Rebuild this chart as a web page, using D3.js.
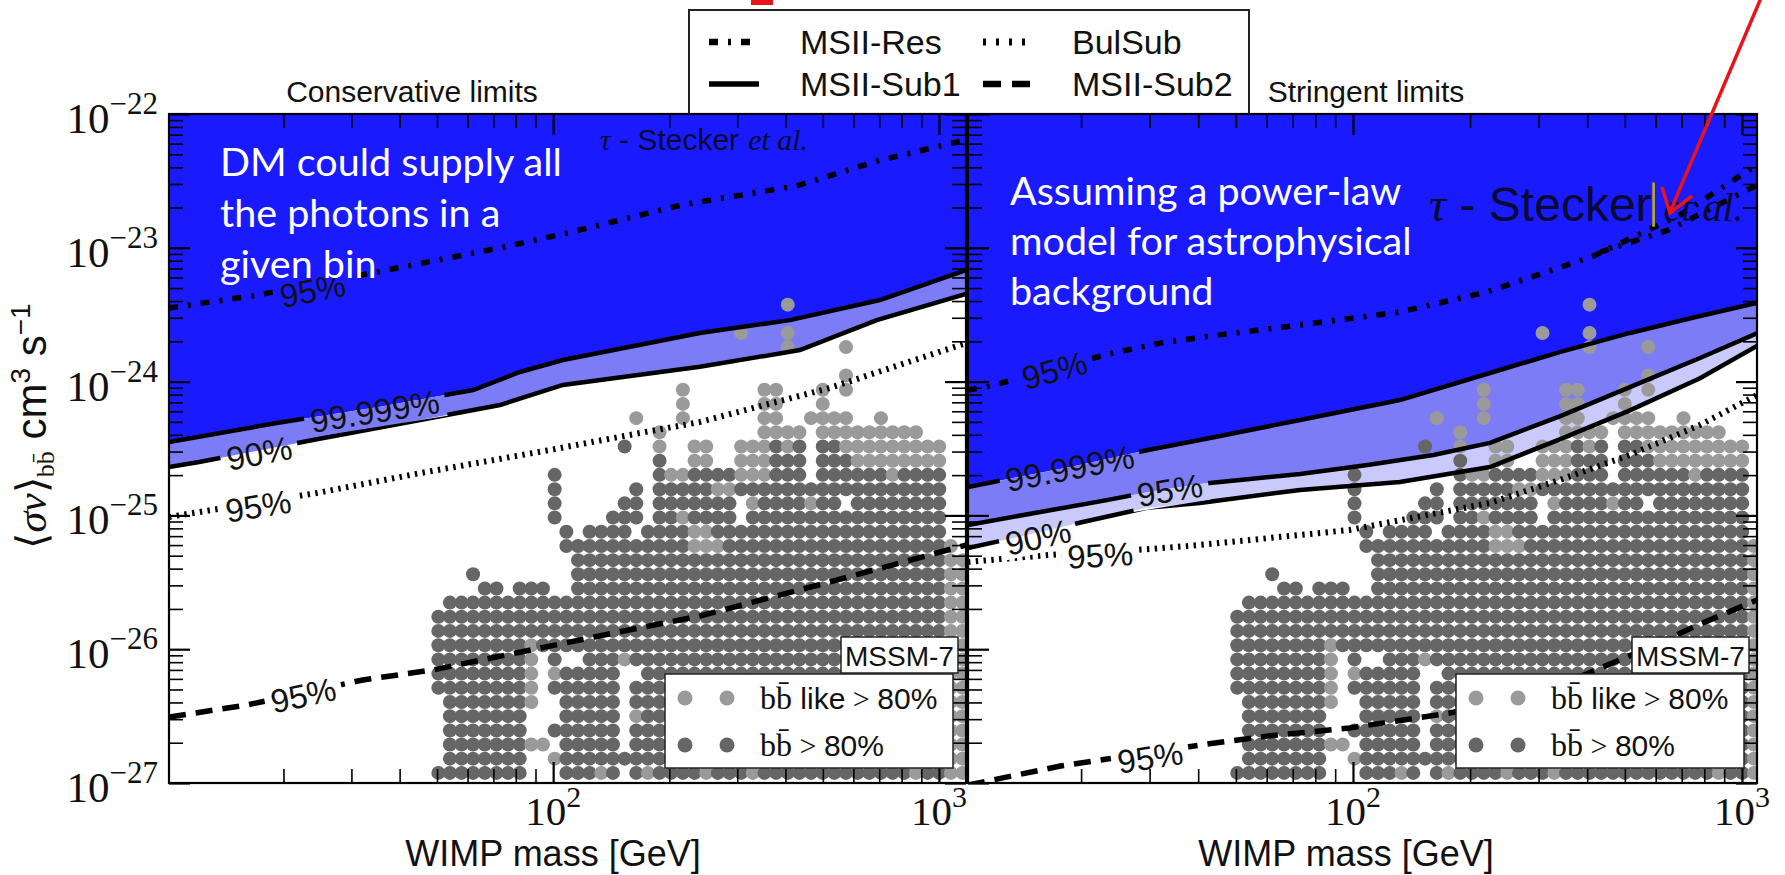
<!DOCTYPE html>
<html>
<head>
<meta charset="utf-8">
<script src="https://cdn.jsdelivr.net/npm/d3@7"></script>
<style>
  body { margin: 0; background: #fff; }
</style>
</head>
<body>
<div id="chart"></div>
<script>
// ---- data ----
// scan grid of MSSM-7 models (same set in both panels)
const massCols = [50.4, 54.0, 57.9, 62.0, 66.5, 71.3, 76.4, 81.9, 87.8, 94.1,
  100.9, 108.2, 116.0, 124.3, 133.3, 142.9, 153.2, 164.2, 176.0, 188.7,
  202.3, 216.9, 232.5, 249.3, 267.2, 286.4, 307.1, 329.2, 352.9, 378.3,
  405.5, 434.7, 466.1, 499.7, 535.6, 574.1, 615.5, 659.8, 707.3, 758.3,
  812.8, 871.4, 934.1, 1001.4, 1073.5, 1150.8];
// bottom row first
const sigmaRows = [1.19e-27, 1.52e-27, 1.94e-27, 2.47e-27, 3.16e-27, 4.03e-27, 5.15e-27, 6.57e-27, 8.39e-27,
  1.07e-26, 1.37e-26, 1.75e-26, 2.23e-26, 2.84e-26, 3.63e-26, 4.63e-26, 5.91e-26, 7.55e-26, 9.64e-26,
  1.23e-25, 1.57e-25, 2.01e-25, 2.56e-25, 3.27e-25, 4.18e-25, 5.33e-25, 6.81e-25, 8.69e-25,
  1.11e-24, 1.42e-24, 1.81e-24, 2.31e-24, 2.94e-24, 3.76e-24];
// top row first; D = bb > 80%, L = bb like > 80%
const modelGrid = [
  ".......... .......... .......... L......... ......",
  ".......... .......... .......... .......... ......",
  ".......... .......... ......L... L......... ......",
  ".......... .......... .......... L....L.... ......",
  ".......... .......... .......... .......... ......",
  ".......... .......... .......... .....L.... ......",
  ".......... .......... .L......LL ...L.L.... ......",
  ".......... .......... .L......LL ...L...... ......",
  ".......... .......L.. .L......LL ..LLLL..L. ......",
  ".......... .........L ........LL LL.LLLLLLL LL....",
  ".......... ......D..L ..LL..LLLD LD.DDLLLLL LLLL..",
  ".......... .........D ..LL..LLLD DD.DDDLLLL LLLL..",
  ".......... D........D LLDDDDLLLD DD.DDDDDDL DDDD..",
  ".......... D......D.D DDDDLLDDDD DDDDDDDDDD DDDD..",
  ".......... D.....DD.D DDDDDD.LDD DDLDD.DDDD DDDD..",
  ".......... D....DDD.D DLDDDD.DDD DDDDDDDDDD DDDD..",
  ".......... .D.DDDD.DD DDLLDDDDDD DDDDDDDDDD DDDD..",
  ".......... .DDDDDDDDD DDLLLDDDDD DDDDDDDDDD DDDDL.",
  ".......... ..DDDDDDDD DDDDDDDDDD DDDDDDDDDD DDDDLL",
  "...D...... ..DDDDDDDD DDDDDDDDDD DDDDDDDDDD DDDDLL",
  "....DD.DDD ..DDDDDDDD DDDDDDDDDD DDDDDDDDDD DDDDLL",
  ".DDDDDDDDD DDDDDDDDDD DDDDDDDDDD DDDDDDDDDD DDDDLL",
  "DDDDDDDDDD DDDDDDDDDD DDDDDDDDDD DDDDDDDDDD DDDDLL",
  "DDDDDDDDDD DDDDDDDDDD DDDDDDDDDD DDDDDDDDDD DDDDLL",
  "DDDDDDDDLD DDDDDDDDDD DDDDDDDDDD DDDDDDDDDD DDDDLL",
  "DDDDDDDDL. D..DDDLDDD DDDDDDDDDD DDDDDDDDDD DDDDLL",
  "DDDDDDDDL. LDDDDD..DD DDDDDDDDDD DDDDDDDDDD DDDDLL",
  "DDDDDDDDL. DDDDDD.DDD DDDDDDDDDD DDDDDDDDDD DDDDLL",
  ".DDDDDDDL. .DDDDD.DDD DDDDDDDDDD DDDDDDDDDD DDDDLL",
  ".DDDDDDD.. .DDDDD.LDD DDDDDDDDDD DDDDDDDDDD DDDDLL",
  ".DDDDDDD.. DDDDDD.DDD DDDDDDDDDD DDDDDDDDDD DDDDLL",
  ".DDDDDDDLL .DDDDD.DDD DDDDDDDDDD DDDDDDDDDD DDDDLL",
  ".DDDDDDD.. LDDDDDDDDD DDDDDDDDDD DDDDDDDDDD DDDDLL",
  "DDDDDDDD.. .DDDLD.DLD DDDLDDDLDD DDDDDDDDDD DLDDLL"
];

// conservative limits, [mass GeV, <sigma v> cm^3/s]
const consRes = [[10.1, 3.55e-24], [16.9, 4.4e-24], [35, 6.6e-24], [73, 1.0e-23], [110, 1.3e-23],
  [217, 2.1e-23], [428, 2.9e-23], [700, 4.5e-23], [1175, 6.4e-23]];
const consSub1High = [[10.1, 3.54e-25], [19.2, 4.9e-25], [35.6, 6.5e-25], [62, 8.65e-25], [82, 1.18e-24],
  [106, 1.45e-24], [240, 2.31e-24], [411, 2.88e-24], [703, 4.07e-24], [1175, 6.8e-24]];
const consSub1Low = [[10.1, 2.3e-25], [12.1, 2.51e-25], [24.6, 3.72e-25], [45.2, 5.16e-25], [72.8, 6.68e-25],
  [106, 9.44e-25], [240, 1.29e-24], [436, 1.72e-24], [690, 2.88e-24], [1175, 4.52e-24]];
const consBulSub = [[10.1, 9.73e-26], [12.1, 1.06e-25], [24.4, 1.47e-25], [45.2, 2.07e-25], [98, 3.08e-25],
  [168, 4.13e-25], [240, 4.99e-25], [521, 8.96e-25], [1175, 1.94e-24]];
const consSub2 = [[10.1, 3.11e-27], [16.1, 3.83e-27], [32.1, 5.89e-27], [48.8, 7.0e-27], [82, 9.5e-27],
  [149, 1.35e-26], [240, 1.77e-26], [521, 3.18e-26], [1175, 6.0e-26]];

// stringent limits
const strRes = [[10.24, 8.65e-25], [11.7, 9.27e-25], [23.0, 1.58e-24], [31.9, 1.94e-24], [42.9, 2.19e-24],
  [73.1, 2.65e-24], [132, 3.31e-24], [221, 4.67e-24], [416, 8.69e-24], [693, 1.76e-23], [1093, 4.16e-23]];
const strResBranch = [[432, 9.3e-24], [649, 1.36e-23], [1093, 2.94e-23]];
const strSub1High = [[10.24, 1.63e-25], [12.6, 1.84e-25], [19.3, 2.34e-25], [29.7, 3.08e-25], [40.4, 3.66e-25],
  [73.1, 5.16e-25], [132, 7.28e-25], [225, 1.16e-24], [340, 1.66e-24], [515, 2.31e-24], [780, 3.09e-24], [1093, 3.87e-24]];
const strSub1Mid = [[10.24, 8.47e-26], [15.7, 1.06e-25], [23.3, 1.30e-25], [30.1, 1.50e-25], [40.4, 1.72e-25],
  [54.3, 1.87e-25], [73.1, 2.04e-25], [109, 2.38e-25], [161, 2.83e-25], [225, 3.48e-25], [340, 5.5e-25],
  [515, 9.1e-25], [780, 1.5e-24], [1093, 2.3e-24]];
const strSub1Low = [[10.24, 5.7e-26], [15.7, 7.51e-26], [20.2, 8.93e-26], [29.5, 1.14e-25], [40.4, 1.24e-25],
  [73.1, 1.55e-25], [132, 1.78e-25], [225, 2.30e-25], [340, 3.7e-25], [515, 6.1e-25], [780, 1.06e-24], [1093, 1.85e-24]];
const strBulSub = [[10.24, 4.49e-26], [16.6, 5.06e-26], [30.1, 5.61e-26], [40.4, 6.01e-26], [98, 7.78e-26],
  [146, 9.73e-26], [225, 1.24e-25], [340, 1.84e-25], [515, 2.83e-25], [780, 4.74e-25], [1093, 7.94e-25]];
const strSub2 = [[10.24, 9.66e-28], [17.7, 1.34e-27], [40.4, 1.92e-27], [60.1, 2.24e-27], [98, 2.58e-27],
  [177, 3.33e-27], [268, 4.39e-27], [377, 6.1e-27], [573, 1.02e-26], [780, 1.54e-26], [1093, 2.33e-26]];

// contour labels: text, mass, sigma, line it sits on
const consLabels = [
  { text: "95%", mass: 23.8, sigma: 4.84e-24, on: "res" },
  { text: "99.999%", mass: 34.5, sigma: 6.03e-25, on: "high" },
  { text: "90%", mass: 17.3, sigma: 2.93e-25, on: "low" },
  { text: "95%", mass: 17.2, sigma: 1.18e-25, on: "bulsub" },
  { text: "95%", mass: 22.5, sigma: 4.55e-27, on: "sub2" }
];
const strLabels = [
  { text: "95%", mass: 17.1, sigma: 1.22e-24, on: "res" },
  { text: "99.999%", mass: 18.7, sigma: 2.26e-25, on: "high" },
  { text: "95%", mass: 33.8, sigma: 1.55e-25, on: "mid" },
  { text: "90%", mass: 15.5, sigma: 6.9e-26, on: "low" },
  { text: "95%", mass: 22.4, sigma: 5.06e-26, on: "bulsub" },
  { text: "95%", mass: 30.1, sigma: 1.56e-27, on: "sub2" }
];

const yTickExps = [-27, -26, -25, -24, -23, -22];
const xTickExps = [2, 3];
const legendNames = ["MSII-Res", "BulSub", "MSII-Sub1", "MSII-Sub2"];
const pointLegend = ["like", ""];
const leftNote = ["DM could supply all", "the photons in a", "given bin"];
const rightNote = ["Assuming a power-law", "model for astrophysical", "background"];

// ---- drawing ----
const W = 1785, H = 875;
const sans = "'Liberation Sans', Arial, Helvetica, sans-serif";
const serif = "'Liberation Serif', 'Times New Roman', serif";
const noteFont = "Lato, 'Open Sans', sans-serif";
const blueDark = "#1a1aff", blueMid = "#7c7cf7", blueLight = "#c9c9fb";
const dotDark = "#666666", dotLight = "#9a9a9a";

const styles = {
  res: { w: 5.5, dash: "9,10,3,10" },
  solid: { w: 4.5, dash: null },
  bulsub: { w: 6, dash: "2.4,5.4" },
  sub2: { w: 5.5, dash: "17,10" }
};

const svg = d3.select("#chart").append("svg")
  .attr("width", W).attr("height", H)
  .style("font-family", sans);
const defs = svg.append("defs");

const yTop = 114, yBot = 783;
const y = d3.scaleLog().domain([1e-27, 1e-22]).range([yBot, yTop]);

// legend box at top (drawn first, panels cover its lower edge)
const lg = svg.append("g");
lg.append("rect").attr("x", 689).attr("y", 10).attr("width", 560).attr("height", 106)
  .attr("fill", "#fff").attr("stroke", "#222").attr("stroke-width", 2);
const legendStyle = [
  { st: "res", dash: "9,10,3,10" }, { st: "bulsub", dash: "3,10" },
  { st: "solid", dash: null }, { st: "sub2", dash: "18,11" }
];
legendNames.forEach((name, i) => {
  const col = i % 2, row = Math.floor(i / 2);
  const lx = col === 0 ? 709 : 983, tx = col === 0 ? 800 : 1072;
  const ly = row === 0 ? 42 : 84;
  lg.append("line").attr("x1", lx).attr("x2", lx + 50).attr("y1", ly).attr("y2", ly)
    .attr("stroke", "#000").attr("stroke-width", styles[legendStyle[i].st].w + 1)
    .attr("stroke-dasharray", legendStyle[i].dash);
  lg.append("text").attr("x", tx).attr("y", ly + 12).style("font-size", "34px")
    .attr("fill", "#111").text(name);
});

const panels = [
  { id: "cons", x0: 169, x1: 966, xDomain: [10.1, 1175], title: "Conservative limits", titleX: 412,
    lines: { res: consRes, high: consSub1High, low: consSub1Low, bulsub: consBulSub, sub2: consSub2 },
    bands: [["high", "low", blueMid]], labels: consLabels, xLabelX: 553 },
  { id: "str", x0: 968, x1: 1757, xDomain: [10.24, 1093], title: "Stringent limits", titleX: 1366,
    lines: { res: strRes, branch: strResBranch, high: strSub1High, mid: strSub1Mid, low: strSub1Low,
      bulsub: strBulSub, sub2: strSub2 },
    bands: [["high", "mid", blueMid], ["mid", "low", blueLight]], labels: strLabels, xLabelX: 1346 }
];
const lineStyle = { res: "res", branch: "res", high: "solid", mid: "solid", low: "solid", bulsub: "bulsub", sub2: "sub2" };

panels.forEach(p => {
  const x = d3.scaleLog().domain(p.xDomain).range([p.x0, p.x1]);
  const line = d3.line().x(d => x(d[0])).y(d => y(d[1]));
  const lo = p.xDomain[0] * 0.9, hi = p.xDomain[1] * 1.1;

  defs.append("clipPath").attr("id", "clip-" + p.id).append("rect")
    .attr("x", p.x0).attr("y", yTop).attr("width", p.x1 - p.x0).attr("height", yBot - yTop);
  const g = svg.append("g");
  const body = g.append("g").attr("clip-path", `url(#clip-${p.id})`);
  body.append("rect").attr("x", p.x0).attr("y", yTop).attr("width", p.x1 - p.x0)
    .attr("height", yBot - yTop).attr("fill", "#fff");

  // excluded region and bands
  const high = p.lines.high;
  body.append("path")
    .attr("d", line([[lo, high[0][1]], ...high, [hi, high[high.length - 1][1]], [hi, 3e-22], [lo, 3e-22]]) + "Z")
    .attr("fill", blueDark);
  p.bands.forEach(([a, b, c]) => {
    const A = p.lines[a], B = p.lines[b];
    body.append("path")
      .attr("d", line([[lo, A[0][1]], ...A, [hi, A[A.length - 1][1]],
        [hi, B[B.length - 1][1]], ...B.slice().reverse(), [lo, B[0][1]]]) + "Z")
      .attr("fill", c);
  });

  // model points
  const rowsN = modelGrid.length;
  modelGrid.forEach((row, i) => {
    const k = rowsN - 1 - i;
    row.replace(/ /g, "").split("").forEach((c, j) => {
      if (c === ".") return;
      body.append("circle").attr("cx", x(massCols[j])).attr("cy", y(sigmaRows[k])).attr("r", 7)
        .attr("fill", c === "D" ? dotDark : dotLight);
    });
  });

  // contour lines with gaps where labels sit
  const mask = defs.append("mask").attr("id", "gap-" + p.id).attr("maskUnits", "userSpaceOnUse")
    .attr("x", 0).attr("y", 0).attr("width", W).attr("height", H);
  mask.append("rect").attr("width", W).attr("height", H).attr("fill", "#fff");
  const lineG = body.append("g").attr("mask", `url(#gap-${p.id})`);
  Object.entries(p.lines).forEach(([key, pts]) => {
    const st = styles[lineStyle[key]];
    lineG.append("path").attr("d", line(pts)).attr("fill", "none")
      .attr("stroke", "#000").attr("stroke-width", st.w)
      .attr("stroke-dasharray", st.dash);
  });
  const labG = body.append("g");
  p.labels.forEach(l => {
    const pts = p.lines[l.on];
    let i = 0;
    while (i < pts.length - 2 && pts[i + 1][0] < l.mass) i++;
    const ang = Math.atan2(y(pts[i + 1][1]) - y(pts[i][1]), x(pts[i + 1][0]) - x(pts[i][0])) * 180 / Math.PI;
    const tr = `translate(${x(l.mass)},${y(l.sigma)}) rotate(${ang})`;
    const t = labG.append("text").attr("transform", tr).attr("text-anchor", "middle")
      .attr("dy", "0.36em").style("font-size", "33px").attr("fill", "#111").text(l.text);
    const w = t.node().getComputedTextLength();
    mask.append("rect").attr("transform", tr).attr("x", -w / 2 - 6).attr("y", -16)
      .attr("width", w + 12).attr("height", 32).attr("fill", "#000");
  });

  // axes: inward ticks on all four sides
  const yMinor = [];
  yTickExps.slice(0, -1).forEach(e => { for (let m = 2; m <= 9; m++) yMinor.push(m * Math.pow(10, e)); });
  const yMajor = yTickExps.map(e => Math.pow(10, e));
  const xMinor = [];
  [1, 2, 3].forEach(e => { for (let m = 2; m <= 9; m++) { const v = m * Math.pow(10, e); if (v > p.xDomain[0] && v < p.xDomain[1]) xMinor.push(v); } });
  const xMajor = xTickExps.map(e => Math.pow(10, e));
  const axes = [
    [d3.axisRight(y), `translate(${p.x0},0)`, yMinor, yMajor],
    [d3.axisLeft(y), `translate(${p.x1},0)`, yMinor, yMajor],
    [d3.axisTop(x), `translate(0,${yBot})`, xMinor, xMajor],
    [d3.axisBottom(x), `translate(0,${yTop})`, xMinor, xMajor]
  ];
  axes.forEach(([ax, tr, minor, major]) => {
    g.append("g").attr("transform", tr)
      .call(ax.tickValues(minor).tickSize(14).tickFormat(""))
      .call(s => s.select(".domain").remove())
      .call(s => s.selectAll("line").attr("stroke-width", 1.6));
    g.append("g").attr("transform", tr)
      .call(ax.tickValues(major).tickSize(21).tickFormat(""))
      .call(s => s.select(".domain").remove())
      .call(s => s.selectAll("line").attr("stroke-width", 2.2));
  });

  // MSSM-7 tag and point legend
  const bx = p.x1 - 301;
  g.append("rect").attr("x", p.x1 - 125).attr("y", 637).attr("width", 117).attr("height", 36)
    .attr("fill", "#fff").attr("stroke", "#222").attr("stroke-width", 1.5);
  g.append("text").attr("x", p.x1 - 121).attr("y", 666).style("font-size", "28px").attr("fill", "#111").text("MSSM-7");
  g.append("rect").attr("x", bx).attr("y", 674).attr("width", 288).attr("height", 94)
    .attr("fill", "#fff").attr("stroke", "#222").attr("stroke-width", 1.5);
  pointLegend.forEach((word, r) => {
    const cy = r === 0 ? 698 : 745;
    [bx + 20, bx + 62].forEach(cx => g.append("circle").attr("cx", cx).attr("cy", cy).attr("r", 7.5)
      .attr("fill", r === 0 ? dotLight : dotDark));
    const t = g.append("text").attr("x", bx + 95).attr("y", cy + 11).style("font-size", "30px").attr("fill", "#111");
    t.append("tspan").style("font-family", serif).style("font-size", "32px").text("bb\u0304");
    if (word) t.append("tspan").text(" " + word);
    t.append("tspan").style("font-family", serif).text(" > ");
    t.append("tspan").text("80%");
  });

  // frame
  g.append("rect").attr("x", p.x0).attr("y", yTop).attr("width", p.x1 - p.x0).attr("height", yBot - yTop)
    .attr("fill", "none").attr("stroke", "#000").attr("stroke-width", 2.2);

  // x tick labels and axis title
  xTickExps.forEach(e => {
    const t = svg.append("text").attr("x", x(Math.pow(10, e))).attr("y", 825)
      .attr("text-anchor", "middle").style("font-family", serif).attr("fill", "#111");
    t.append("tspan").style("font-size", "41px").text("10");
    t.append("tspan").attr("dy", -18).style("font-size", "30px").text(e);
  });
  svg.append("text").attr("x", p.xLabelX).attr("y", 866).attr("text-anchor", "middle")
    .style("font-size", "36px").attr("fill", "#111").text("WIMP mass [GeV]");
  svg.append("text").attr("x", p.titleX).attr("y", 102).attr("text-anchor", "middle")
    .style("font-size", "30px").attr("fill", "#111").text(p.title);
});

// y tick labels
yTickExps.forEach(e => {
  const t = svg.append("text").attr("x", 158).attr("y", y(Math.pow(10, e)) + 19)
    .attr("text-anchor", "end").style("font-family", serif).attr("fill", "#111");
  t.append("tspan").style("font-size", "43px").text("10");
  t.append("tspan").attr("dy", -19).style("font-size", "31px").text("\u2212" + Math.abs(e));
});

// y axis title
const yl = svg.append("text").attr("transform", "translate(46,426) rotate(-90)")
  .attr("text-anchor", "middle").style("font-size", "42px").attr("fill", "#111");
yl.append("tspan").style("font-family", serif).text("\u27e8");
yl.append("tspan").style("font-family", serif).style("font-style", "italic").text("\u03c3v");
yl.append("tspan").style("font-family", serif).text("\u27e9");
yl.append("tspan").attr("dy", 8).style("font-family", serif).style("font-size", "26px").text("bb\u0304");
yl.append("tspan").attr("dy", -8).text(" cm");
yl.append("tspan").attr("dy", -16).style("font-size", "28px").text("3");
yl.append("tspan").attr("dy", 16).text(" s");
yl.append("tspan").attr("dy", -16).style("font-size", "28px").text("\u22121");

// white notes on the excluded regions
leftNote.forEach((s, i) => svg.append("text").attr("x", 220).attr("y", 176 + i * 51)
  .style("font-family", noteFont).style("font-size", "39.5px").attr("fill", "#fff").text(s));
rightNote.forEach((s, i) => svg.append("text").attr("x", 1010).attr("y", 205 + i * 50)
  .style("font-family", noteFont).style("font-size", "39.5px").attr("fill", "#fff").text(s));

// tau - Stecker et al. markers
function stecker(x0, base, size, small, mark) {
  const t = svg.append("text").attr("x", x0).attr("y", base).style("font-size", size + "px").attr("fill", "#0a0a33");
  t.append("tspan").style("font-family", serif).style("font-style", "italic").text("\u03c4");
  t.append("tspan").text(" - Stecker");
  const w = t.node().getComputedTextLength();
  svg.append("text").attr("x", x0 + w + small * 0.3).attr("y", base).style("font-family", serif)
    .style("font-style", "italic").style("font-size", small + "px").attr("fill", "#0a0a33").text("et al.");
  if (mark) svg.append("line").attr("x1", x0 + w + 2).attr("x2", x0 + w + 2)
    .attr("y1", base - size * 0.8).attr("y2", base + size * 0.12)
    .attr("stroke", "#c8b400").attr("stroke-width", 2.5);
}
stecker(600, 150, 30, 30, false);
stecker(1429, 221, 48, 40, true);

// red annotation arrow
svg.append("line").attr("x1", 1761).attr("y1", -2).attr("x2", 1670).attr("y2", 212)
  .attr("stroke", "#e8141c").attr("stroke-width", 3.5);
svg.append("polyline").attr("points", "1662,187 1670,213 1692,196").attr("fill", "none")
  .attr("stroke", "#e8141c").attr("stroke-width", 3.5);
svg.append("rect").attr("x", 751).attr("y", 0).attr("width", 22).attr("height", 5).attr("fill", "#e8141c");
</script>
</body>
</html>
